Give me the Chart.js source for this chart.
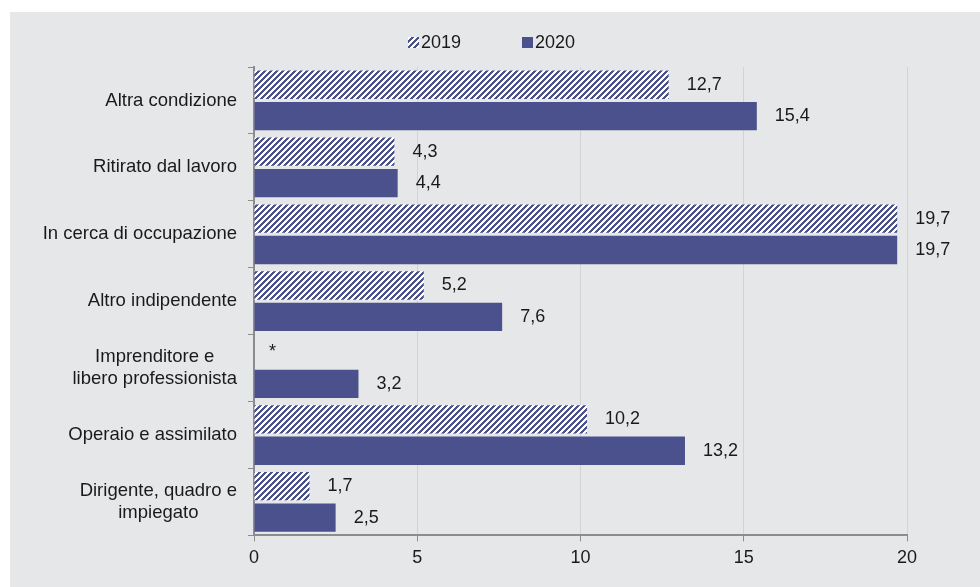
<!DOCTYPE html>
<html>
<head>
<meta charset="utf-8">
<script src="https://cdn.jsdelivr.net/npm/chart.js@4/dist/chart.umd.min.js"></script>
<style>
  body { margin: 0; background: #fff; }
  #box { position: absolute; left: 10px; top: 12px; width: 970px; height: 575px; background: #e6e7e8; }
</style>
</head>
<body>
<div id="box"><canvas id="myChart"></canvas></div>
<script>
// categories, top to bottom (each entry = lines of the label)
var categories = [
    ["Altra condizione"],
    ["Ritirato dal lavoro"],
    ["In cerca di occupazione"],
    ["Altro indipendente"],
    ["Imprenditore e", "libero professionista"],
    ["Operaio e assimilato"],
    ["Dirigente, quadro e", "impiegato"]
];
var seriesNames = ["2019", "2020"];
var values2019 = [12.7, 4.3, 19.7, 5.2, null, 10.2, 1.7];
var values2020 = [15.4, 4.4, 19.7, 7.6, 3.2, 13.2, 2.5];
var xTicks = [0, 5, 10, 15, 20];

var blue = "#4a518d";
var textColor = "#1a1a1a";
var fontFamily = "'Liberation Sans', Arial, sans-serif";

// "/" stripes, blue on white, built pixel by pixel so they stay crisp
function hatch() {
    var n = 6;
    var c = document.createElement("canvas");
    c.width = n; c.height = n;
    var g = c.getContext("2d");
    g.fillStyle = "#ffffff";
    g.fillRect(0, 0, n, n);
    g.fillStyle = blue;
    for (var x = 0; x < n; x++) {
        for (var y = 0; y < n; y++) {
            if ((x + y) % n < 3) g.fillRect(x, y, 1, 1);
        }
    }
    return g.createPattern(c, "repeat");
}
var hatchPattern = hatch();

function fmt(v) {
    return v === null ? "*" : v.toFixed(1).replace(".", ",");
}

// draws category labels (centered lines, right-aligned block), value labels and legend
var extras = {
    id: "extras",
    afterDraw: function (chart) {
        var ctx = chart.ctx;
        var yScale = chart.scales.y;
        ctx.save();
        ctx.font = "18.5px " + fontFamily;
        ctx.fillStyle = textColor;
        ctx.textBaseline = "middle";
        ctx.textAlign = "center";
        var rightEdge = 227;
        categories.forEach(function (lines, i) {
            var w = Math.max.apply(null, lines.map(function (l) { return ctx.measureText(l).width; }));
            var cx = rightEdge - w / 2;
            var cy = yScale.getPixelForValue(i);
            var lh = 22;
            lines.forEach(function (l, k) {
                ctx.fillText(l, cx, cy + (k - (lines.length - 1) / 2) * lh);
            });
        });
        ctx.font = "18px " + fontFamily;
        ctx.textAlign = "left";
        chart.data.datasets.forEach(function (ds, di) {
            var meta = chart.getDatasetMeta(di);
            meta.data.forEach(function (bar, i) {
                var v = ds.data[i];
                var x = v === null ? chart.scales.x.getPixelForValue(0) : bar.x;
                var y = bar.y;
                if (v === null) {
                    y = yScale.getPixelForValue(i) - 16;
                }
                ctx.fillText(fmt(v), x + (v === null ? 15 : 18), y);
            });
        });
        // legend
        var lx = [398, 512];
        seriesNames.forEach(function (name, k) {
            ctx.fillStyle = k === 0 ? hatchPattern : blue;
            ctx.fillRect(lx[k], 25, 11, 11);
            ctx.fillStyle = textColor;
            ctx.fillText(name, lx[k] + 13, 31);
        });
        ctx.restore();
    }
};

new Chart("myChart", {
    type: "bar",
    data: {
        labels: categories.map(function (l) { return l.join(" "); }),
        datasets: [{
            label: seriesNames[0],
            data: values2019,
            backgroundColor: hatchPattern,
            barPercentage: 0.9,
            categoryPercentage: 0.94
        },
        {
            label: seriesNames[1],
            data: values2020,
            backgroundColor: blue,
            barPercentage: 0.9,
            categoryPercentage: 0.94
        }]
    },
    options: {
        indexAxis: "y",
        responsive: true,
        maintainAspectRatio: false,
        animation: false,
        layout: { padding: { top: 55, right: 73, bottom: 12, left: 0 } },
        plugins: {
            legend: { display: false },
            tooltip: { enabled: false }
        },
        scales: {
            x: {
                min: 0,
                max: 20,
                afterBuildTicks: function (s) { s.ticks = xTicks.map(function (v) { return { value: v }; }); },
                grid: { color: "#d2d3d5", tickColor: "#8c8c8c", tickLength: 6, lineWidth: 1 },
                border: { color: "#8c8c8c", width: 2 },
                ticks: { color: textColor, font: { size: 18, family: fontFamily }, padding: 6 }
            },
            y: {
                afterFit: function (s) { s.width = 244; },
                grid: { drawOnChartArea: false, tickColor: "#8c8c8c", tickLength: 6, offset: true },
                border: { color: "#8c8c8c", width: 2 },
                ticks: { display: false }
            }
        }
    },
    plugins: [extras]
});
</script>
</body>
</html>
